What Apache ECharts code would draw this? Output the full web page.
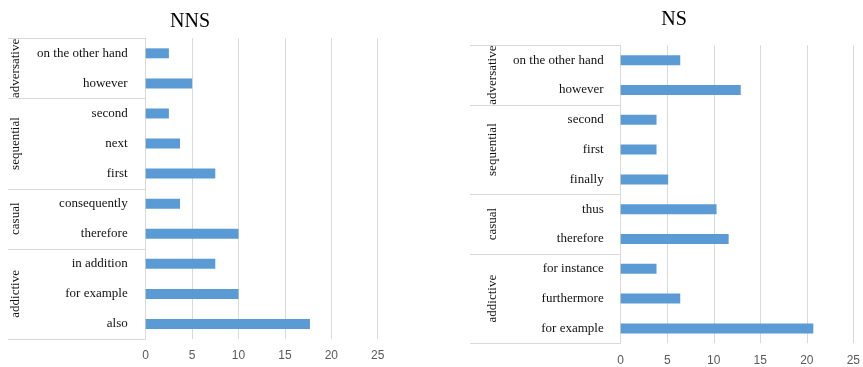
<!DOCTYPE html>
<html>
<head>
<meta charset="utf-8">
<script src="https://cdn.jsdelivr.net/npm/echarts@6/dist/echarts.min.js"></script>
<style>
  html, body { margin: 0; padding: 0; background: #fff; }
  #chart { width: 863px; height: 367px; }
</style>
</head>
<body>
<div id="chart"></div>
<script>
// Connective frequencies, non-native speakers (NNS)
const nnsCategories = ['on the other hand', 'however', 'second', 'next', 'first',
  'consequently', 'therefore', 'in addition', 'for example', 'also'];
const nnsValues = [2.5, 5.0, 2.5, 3.7, 7.5, 3.7, 10.0, 7.5, 10.0, 17.7];
const nnsGroupNames = ['adversative', 'sequential', 'casual', 'addictive'];
const nnsGroupSizes = [2, 3, 2, 3];

// Connective frequencies, native speakers (NS)
const nsCategories = ['on the other hand', 'however', 'second', 'first', 'finally',
  'thus', 'therefore', 'for instance', 'furthermore', 'for example'];
const nsValues = [6.4, 12.9, 3.85, 3.85, 5.1, 10.3, 11.6, 3.85, 6.4, 20.7];
const nsGroupNames = ['adversative', 'sequential', 'casual', 'addictive'];
const nsGroupSizes = [2, 3, 2, 3];

const xTicks = [0, 5, 10, 15, 20, 25];

const SERIF = '"Liberation Serif", "Times New Roman", serif';
const SANS = '"Liberation Sans", Arial, sans-serif';
const BAR = '#5b9bd5';
const RULE = '#d9d9d9';

const panels = [
  { title: 'NNS', cats: nnsCategories, vals: nnsValues, groups: nnsGroupNames, sizes: nnsGroupSizes,
    grid: { left: 145.7, top: 38.3, width: 232, height: 300.7 },
    titleX: 185, titleY: 7, tableLeft: 8, groupX: 16, labelMargin: 18 },
  { title: 'NS', cats: nsCategories, vals: nsValues, groups: nsGroupNames, sizes: nsGroupSizes,
    grid: { left: 620.7, top: 45.3, width: 233.6, height: 298 },
    titleX: 669, titleY: 5, tableLeft: 470, groupX: 493, labelMargin: 17 }
];

const chart = echarts.init(document.getElementById('chart'), null, { renderer: 'canvas' });

const option = {
  animation: false,
  backgroundColor: '#ffffff',
  title: panels.map(p => ({
    text: p.title,
    left: p.titleX,
    top: p.titleY,
    textAlign: 'center',
    textStyle: { fontFamily: SERIF, fontSize: 20, fontWeight: 'normal', color: '#000' }
  })),
  grid: panels.map(p => Object.assign({ containLabel: false }, p.grid)),
  xAxis: panels.map((p, i) => ({
    type: 'value',
    gridIndex: i,
    min: xTicks[0],
    max: xTicks[xTicks.length - 1],
    interval: xTicks[1] - xTicks[0],
    axisLine: { show: false },
    axisTick: { show: false },
    splitLine: { show: true, lineStyle: { color: RULE, width: 1 } },
    axisLabel: { fontFamily: SANS, fontSize: 12, color: '#595959', margin: 11 }
  })),
  yAxis: panels.map((p, i) => ({
    type: 'category',
    gridIndex: i,
    inverse: true,
    data: p.cats,
    axisLine: { show: true, lineStyle: { color: RULE, width: 1 } },
    axisTick: { show: false },
    axisLabel: { fontFamily: SERIF, fontSize: 13, color: '#111', margin: p.labelMargin }
  })),
  series: panels.map((p, i) => ({
    type: 'bar',
    xAxisIndex: i,
    yAxisIndex: i,
    data: p.vals,
    barWidth: 10,
    itemStyle: { color: BAR },
    silent: true
  }))
};

chart.setOption(option);

// Group table: separator rules and rotated group names beside each axis
const graphics = [];
panels.forEach((p, i) => {
  const yOf = idx => chart.convertToPixel({ yAxisIndex: i }, p.cats[idx]);
  const band = Math.abs(yOf(1) - yOf(0));
  const edge = k => (k === 0 ? yOf(0) - band / 2 : yOf(k - 1) + band / 2);
  const axisX = p.grid.left;
  let start = 0;
  const bounds = [edge(0)];
  p.sizes.forEach(sz => { start += sz; bounds.push(edge(start)); });
  bounds.forEach(y => {
    graphics.push({
      type: 'line', silent: true,
      shape: { x1: p.tableLeft, y1: Math.round(y) + 0.5, x2: axisX, y2: Math.round(y) + 0.5 },
      style: { stroke: RULE, lineWidth: 1 }
    });
  });
  let s = 0;
  p.groups.forEach((g, gi) => {
    const yc = (edge(s) + edge(s + p.sizes[gi])) / 2;
    s += p.sizes[gi];
    graphics.push({
      type: 'text', silent: true,
      x: p.groupX, y: yc, rotation: Math.PI / 2,
      style: { text: g, fontFamily: SERIF, fontSize: 13, fill: '#111',
        textAlign: 'center', textVerticalAlign: 'middle' }
    });
  });
});
chart.setOption({ graphic: graphics });
</script>
</body>
</html>
